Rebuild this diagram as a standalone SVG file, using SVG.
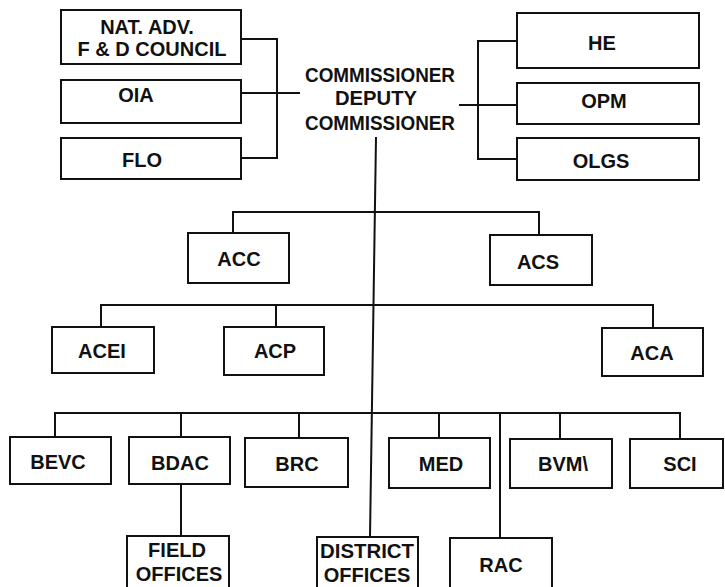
<svg xmlns="http://www.w3.org/2000/svg" width="725" height="587" viewBox="0 0 725 587">
<style>
.box{fill:#fff;stroke:#111;stroke-width:2}
.ln{fill:none;stroke:#111;stroke-width:2}
text{font-family:"Liberation Sans",Arial,sans-serif;font-weight:bold;font-size:20px;fill:#111;text-anchor:middle}
</style>
<rect width="725" height="587" fill="#fff"/>
<g id="connectors">
<path class="ln" d="M241,39H277V158H241M241,93H300"/>
<path class="ln" d="M517,41H478V159H517M459,105H517"/>
<path class="ln" d="M376,137L370,537"/>
<path class="ln" d="M233,233V212H539V235"/>
<path class="ln" d="M101,327V305H653V328M276,305V327"/>
<path class="ln" d="M55,437V413H680V439M181,413V437M299,413V438M439,413V438M500,413V538M560,413V439"/>
<path class="ln" d="M181,484V536"/>
</g>
<g id="commissioner">
<text x="380" y="82" textLength="150" lengthAdjust="spacingAndGlyphs">COMMISSIONER</text>
<text x="376" y="105" textLength="82" lengthAdjust="spacingAndGlyphs">DEPUTY</text>
<text x="380" y="130" textLength="150" lengthAdjust="spacingAndGlyphs">COMMISSIONER</text>
</g>
<g id="nat"><rect class="box" x="61" y="10" width="180" height="54"/><text x="147" y="34">NAT. ADV.</text><text x="152" y="56">F &amp; D COUNCIL</text></g>
<g id="oia"><rect class="box" x="61" y="80" width="180" height="43"/><text x="136" y="102">OIA</text></g>
<g id="flo"><rect class="box" x="61" y="138" width="180" height="41"/><text x="142" y="167">FLO</text></g>
<g id="he"><rect class="box" x="517" y="13" width="182" height="55"/><text x="602" y="50">HE</text></g>
<g id="opm"><rect class="box" x="517" y="83" width="182" height="41"/><text x="604" y="108">OPM</text></g>
<g id="olgs"><rect class="box" x="517" y="138" width="182" height="42"/><text x="601" y="168">OLGS</text></g>
<g id="acc"><rect class="box" x="188" y="233" width="101" height="50"/><text x="239" y="266">ACC</text></g>
<g id="acs"><rect class="box" x="490" y="235" width="102" height="50"/><text x="538" y="269">ACS</text></g>
<g id="acei"><rect class="box" x="52" y="327" width="102" height="46"/><text x="102" y="358">ACEI</text></g>
<g id="acp"><rect class="box" x="224" y="327" width="100" height="48"/><text x="275" y="358">ACP</text></g>
<g id="aca"><rect class="box" x="602" y="328" width="101" height="48"/><text x="652" y="360">ACA</text></g>
<g id="bevc"><rect class="box" x="10" y="437" width="101" height="47"/><text x="58" y="469">BEVC</text></g>
<g id="bdac"><rect class="box" x="129" y="437" width="101" height="47"/><text x="180" y="470">BDAC</text></g>
<g id="brc"><rect class="box" x="245" y="438" width="103" height="49"/><text x="297" y="471">BRC</text></g>
<g id="med"><rect class="box" x="389" y="438" width="101" height="50"/><text x="441" y="471">MED</text></g>
<g id="bvm"><rect class="box" x="510" y="439" width="102" height="49"/><text x="563" y="471">BVM\</text></g>
<g id="sci"><rect class="box" x="630" y="439" width="93" height="49"/><text x="680" y="471">SCI</text></g>
<g id="field"><rect class="box" x="127" y="536" width="102" height="70"/><text x="177" y="557">FIELD</text><text x="179" y="581">OFFICES</text></g>
<g id="district"><rect class="box" x="317" y="537" width="101" height="70"/><text x="367" y="558" textLength="94" lengthAdjust="spacingAndGlyphs">DISTRICT</text><text x="367" y="582">OFFICES</text></g>
<g id="rac"><rect class="box" x="450" y="538" width="102" height="70"/><text x="501" y="572">RAC</text></g>
</svg>
